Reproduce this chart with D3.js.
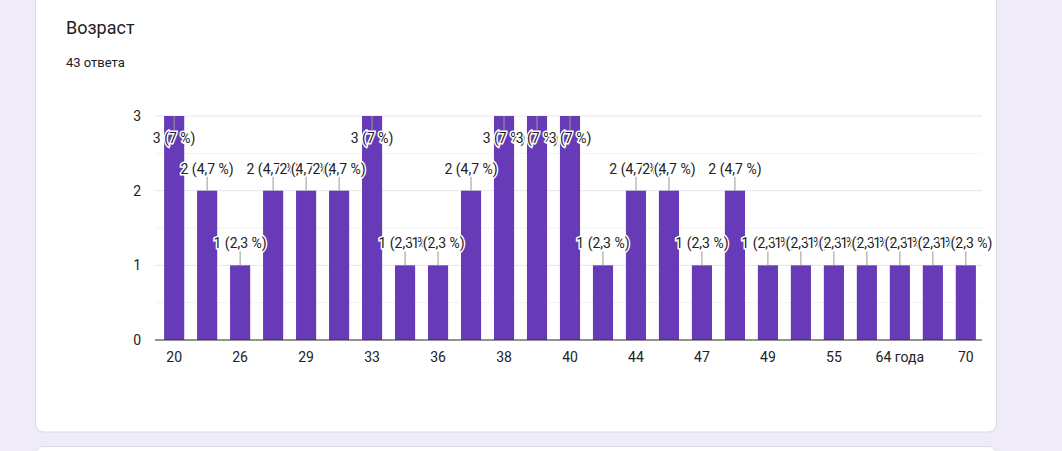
<!DOCTYPE html><html><head><meta charset="utf-8">
<script src="https://cdn.jsdelivr.net/npm/d3@7"></script>
<style>body{margin:0;background:#f0ebf8;font-family:Roboto,Arial,sans-serif}</style></head><body>
<svg id="c" width="1062" height="451"></svg>
<script>
const categories=["20","21","26","27","29","30","33","35","36","37","38","39","40","42","44","45","47","48","49","50","55","60","64 года","65","70"];
const values=[3,2,1,2,2,2,3,1,1,2,3,3,3,1,2,2,1,2,1,1,1,1,1,1,1];
const tickLabels=["20","26","29","33","36","38","40","44","47","49","55","64 года","70"];
const labels=["3 (7 %)","2 (4,7 %)","1 (2,3 %)"];
const total=43;
const svg=d3.select("#c");
svg.append("rect").attr("x",35.5).attr("y",-10).attr("width",961).attr("height",442).attr("rx",8).attr("fill","#fff").attr("stroke","#dadce0");
svg.append("rect").attr("x",35.5).attr("y",446.5).attr("width",961).attr("height",20).attr("rx",8).attr("fill","#fff").attr("stroke","#dadce0");
svg.append("text").attr("x",66).attr("y",34).attr("font-size",18).attr("fill","#202124").text("Возраст");
svg.append("text").attr("x",66).attr("y",67).attr("font-size",13).attr("fill","#202124").text("43 ответа");
const x=d3.scaleBand().domain(categories).range([157.5,982.5]).paddingInner(0.39).paddingOuter(0.2);
const y=d3.scaleLinear().domain([0,3]).range([340,116]);
const g=svg.append("g");
d3.range(0,3.01,0.5).forEach(v=>g.append("line").attr("x1",155).attr("x2",982).attr("y1",y(v)).attr("y2",y(v)).attr("stroke",v%1===0?"#e6e6e6":"#f2f2f2"));
[0,1,2,3].forEach(v=>g.append("text").attr("x",141).attr("y",y(v)+5).attr("text-anchor","end").attr("font-size",14).attr("fill","#222").text(v));
g.selectAll(".b").data(values).join("rect").attr("x",(d,i)=>x(categories[i])).attr("width",x.bandwidth()).attr("y",d=>y(d)).attr("height",d=>y(0)-y(d)).attr("fill","#673ab7");
g.append("line").attr("x1",155).attr("x2",982).attr("y1",340).attr("y2",340).attr("stroke","#333");
categories.forEach((c,i)=>{if(tickLabels.includes(c))g.append("text").attr("x",x(c)+x.bandwidth()/2).attr("y",362).attr("text-anchor","middle").attr("font-size",14).attr("fill","#222").text(c);});
values.forEach((v,i)=>{const cx=x(categories[i])+x.bandwidth()/2;const top=y(v);
 const ly=v===3?top+22:top-22;
 g.append("line").attr("x1",cx).attr("x2",cx).attr("y1",top).attr("y2",v===3?ly-8:ly+8).attr("stroke","#999");
 const t=labels[3-v];
 g.append("text").attr("x",cx).attr("y",ly+5).attr("text-anchor","middle").attr("font-size",14).attr("fill","#222").attr("stroke","#fff").attr("stroke-width",3).attr("paint-order","stroke").text(t);
});
</script></body></html>
